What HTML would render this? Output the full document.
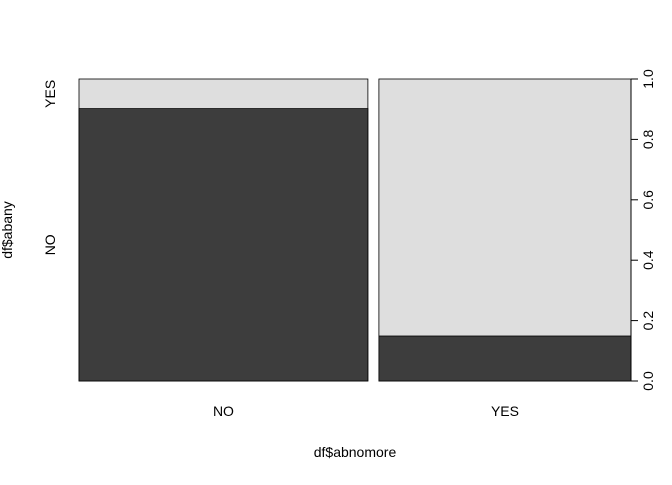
<!DOCTYPE html>
<html><head><meta charset="utf-8"><style>
body{margin:0;background:#fff;}
text{font-family:"Liberation Sans",sans-serif;font-size:14px;fill:#000;}
</style></head><body>
<svg width="672" height="480">
<g id="bars"></g>
<g id="axis"></g>
<text x="12" y="230" transform="rotate(-90 12 230)" text-anchor="middle">df$abany</text>
<text x="355" y="457" text-anchor="middle">df$abnomore</text>
</svg>
<script>
const categories = ["NO", "YES"];
const groupShare = [0.534, 0.466];
const noShare = [0.902, 0.149];
const yLevels = ["NO", "YES"];
const ticks = [0, 0.2, 0.4, 0.6, 0.8, 1.0];
const tickLabels = ["0.0", "0.2", "0.4", "0.6", "0.8", "1.0"];

const NS = "http://www.w3.org/2000/svg";
const x0 = 79, x1 = 631, y0 = 381, y1 = 79, gap = 11;
const ys = v => y0 - v * (y0 - y1);
const avail = x1 - x0 - gap * (categories.length - 1);
const g = document.getElementById('bars');
const svg = document.querySelector('svg');
function mk(tag, attrs, parent) {
  const e = document.createElementNS(NS, tag);
  for (const k in attrs) e.setAttribute(k, attrs[k]);
  parent.appendChild(e); return e;
}
let cx = x0;
categories.forEach((c, i) => {
  const w = groupShare[i] * avail;
  const top = mk('rect', {x: cx, y: y1, width: w, height: y0 - y1, fill: '#dedede', stroke: '#000', 'stroke-width': 0.8}, g);
  
  
  const bot = mk('rect', {x: cx, y: ys(noShare[i]), width: w, height: y0 - ys(noShare[i]), fill: '#3d3d3d', stroke: '#000', 'stroke-width': 0.8}, g);
  
  
  const t = mk('text', {x: cx + w / 2, y: 416, 'text-anchor': 'middle'}, svg);
  t.textContent = c;
  
  
  cx += w + gap;
});
// left-axis level labels (based on first bar)
const yMid = [ys(noShare[0] / 2), ys((1 + noShare[0]) / 2)];
yLevels.forEach((l, i) => {
  const t = mk('text', {x: 55, y: yMid[i], 'text-anchor': 'middle', transform: `rotate(-90 55 ${yMid[i]})`}, svg);
  t.textContent = l;
  
  
});
const ax = document.getElementById('axis');
mk('line', {x1: x1, x2: x1, y1: ys(0), y2: ys(1), stroke: '#000'}, ax);
ticks.forEach((v, i) => {
  mk('line', {x1: x1, x2: x1 + 7, y1: ys(v), y2: ys(v), stroke: '#000'}, ax);
  const t = mk('text', {x: 653, y: ys(v), 'text-anchor': 'middle', transform: `rotate(-90 653 ${ys(v)})`}, ax);
  t.textContent = tickLabels[i];
  
  
});
</script>
</body></html>
